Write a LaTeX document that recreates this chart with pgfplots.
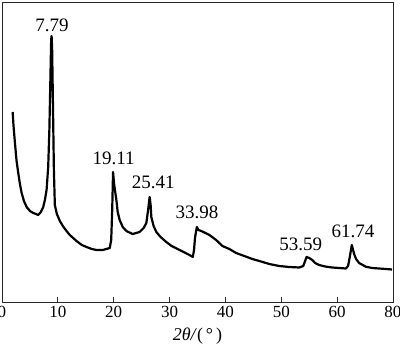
\documentclass[border=0pt]{standalone}
\usepackage{fontspec}
\setmainfont{Liberation Serif}
\usepackage{pgfplots}
\usepackage{pgfplotstable}
\pgfplotsset{compat=1.18}
\pgfplotstableread{
x y
1.91 190
2.05 177
2.32 159
2.59 142
2.91 129
3.21 118
3.52 109
3.93 101
4.41 95
5.00 91
5.59 89
6.07 88
6.48 87
6.96 90
7.38 95
7.68 102
7.98 112
8.27 135
8.48 172
8.66 222
8.80 262
8.88 266
8.98 252
9.11 202
9.29 132
9.46 97
9.82 88
10.36 81
10.89 76
11.55 71
12.14 67
13.34 61
14.29 57
15.13 55
16.07 53
16.91 52
18.04 52
19.29 54
19.55 62
19.73 92
19.88 130
20.09 117
20.48 102
20.71 90
21.07 82
21.61 75
22.27 71
23.39 68
24.64 70
25.36 74
25.84 79
26.16 92
26.43 105
26.61 97
26.73 85
27.14 76
27.63 70
28.39 65
29.41 60
30.36 56
31.79 52
32.86 49
33.57 47
34.16 45
34.38 52
34.55 64
34.88 75
35.18 72
35.66 71
36.43 69
37.14 67
38.34 62
39.46 56
40.71 53
41.91 49
43.39 46
44.82 43
46.07 41
47.86 38
49.64 36
51.43 35
53.21 34.5
53.93 36
54.20 40
54.52 45
55.00 44
55.54 42
56.07 39
56.79 37
57.86 35.5
59.11 34.5
60.36 34
61.55 33.5
61.96 36
62.23 44
62.63 57
62.86 52
63.04 48
63.39 43
63.93 39
65.13 35.3
66.25 34
67.50 33.5
68.75 33
69.82 32.5
}\xrd
\begin{document}
\begin{tikzpicture}
\begin{axis}[
  at={(0pt,0pt)}, anchor=south west,
  scale only axis, width=391pt, height=300pt,
  xmin=0, xmax=70, ymin=0, ymax=300,
  xtick={0,10,20,30,40,50,60,70},
  xticklabels={0,10,20,30,40,50,60,80},
  ytick=\empty,
  tick pos=bottom, tick align=inside,
  major tick length=5pt,
  axis line style={line width=0.9pt, black!85},
  every tick/.style={line width=0.9pt, black!85},
  /pgf/number format/assume math mode=true,
  xticklabel style={font=\fontsize{17}{17}\selectfont, yshift=-1pt},
  xlabel={\textit{2θ/}(\,°\,)},
  xlabel style={font=\fontsize{18}{18}\selectfont, yshift=-3pt},
  clip=false,
]
\addplot[black, line width=2.2pt, line join=round] table {\xrd};
\begin{scope}[every node/.style={font=\fontsize{19}{19}\selectfont, inner sep=0pt}]
\node at (axis cs:8.93,277) {7.79};
\node at (axis cs:20.0,144) {19.11};
\node at (axis cs:27.1,120) {25.41};
\node at (axis cs:34.9,90) {33.98};
\node at (axis cs:53.5,58) {53.59};
\node at (axis cs:62.86,71) {61.74};
\end{scope}
\end{axis}
\pgfresetboundingbox
\useasboundingbox (-2pt,-49pt) rectangle (398pt,302pt);
\end{tikzpicture}
\end{document}
